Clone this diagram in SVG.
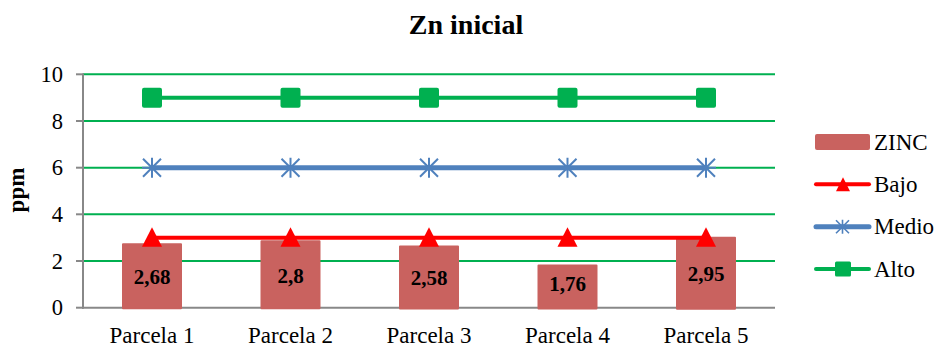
<svg xmlns="http://www.w3.org/2000/svg" xmlns:xlink="http://www.w3.org/1999/xlink" width="938" height="347" viewBox="0 0 938 347" font-family="'Liberation Serif', 'Times New Roman', serif">
<style>
text{fill:#000}
.tick{font-family:"Liberation Serif",serif;font-size:22.5px;text-anchor:end}
.cat{font-family:"Liberation Serif",serif;font-size:23px;text-anchor:middle}
.leg{font-family:"Liberation Serif",serif;font-size:23px}
.val{font-family:"Liberation Serif",serif;font-size:21px;font-weight:bold;text-anchor:middle}
.ttl{font-family:"Liberation Serif",serif;font-size:28px;font-weight:bold;text-anchor:middle}
.grid{stroke:#00B050;stroke-width:2}
.axis{stroke:#888;stroke-width:2}
.bar{fill:#C9625F;stroke:#C9625F;stroke-width:2;stroke-linejoin:round}
.alto{stroke:#00B050;stroke-width:4;fill:none}
.medio{stroke:#4F81BD;stroke-width:5;fill:none}
.bajo{stroke:#FF0000;stroke-width:4;fill:none}
</style>
<defs>
<rect id="sq" x="-10" y="-10" width="20" height="20" rx="2" fill="#00B050"/>
<path id="tri" d="M0,-10.5 L10,9 L-10,9 Z" fill="#FF0000"/>
<path id="star" d="M0,-10 V10 M-9,-9 L9,9 M-9,9 L9,-9 M-10,0 H10" stroke="#4F81BD" stroke-width="2" fill="none"/>
<rect id="sqs" x="-8" y="-7.5" width="16" height="15" rx="1.5" fill="#00B050"/>
<path id="tris" d="M0,-7 L7,7 L-7,7 Z" fill="#FF0000"/>
<path id="stars" d="M0,-7 V7 M-6.5,-6.5 L6.5,6.5 M-6.5,6.5 L6.5,-6.5" stroke="#4F81BD" stroke-width="1.6" fill="none"/>
</defs>
<rect width="938" height="347" fill="#fff"/>
<text class="ttl" x="466" y="34" font-family="Liberation Serif">Zn inicial</text>
<g id="grid">
<line class="grid" x1="83" y1="74.3" x2="775" y2="74.3"/>
<line class="grid" x1="83" y1="121" x2="775" y2="121"/>
<line class="grid" x1="83" y1="167.7" x2="775" y2="167.7"/>
<line class="grid" x1="83" y1="214.3" x2="775" y2="214.3"/>
<line class="grid" x1="83" y1="261" x2="775" y2="261"/>
</g>
<g id="axes" font-family="Liberation Serif">
<line class="axis" x1="83" y1="73.5" x2="83" y2="308.7"/>
<line class="axis" x1="82" y1="307.7" x2="775" y2="307.7"/>
<line class="axis" x1="76" y1="74.3" x2="83" y2="74.3"/>
<line class="axis" x1="76" y1="121" x2="83" y2="121"/>
<line class="axis" x1="76" y1="167.7" x2="83" y2="167.7"/>
<line class="axis" x1="76" y1="214.3" x2="83" y2="214.3"/>
<line class="axis" x1="76" y1="261" x2="83" y2="261"/>
<line class="axis" x1="76" y1="307.7" x2="83" y2="307.7"/>
<text class="tick" x="63" y="82">10</text>
<text class="tick" x="63" y="128.7">8</text>
<text class="tick" x="63" y="175.4">6</text>
<text class="tick" x="63" y="222">4</text>
<text class="tick" x="63" y="268.7">2</text>
<text class="tick" x="63" y="315.4">0</text>
<text x="24" y="190" transform="rotate(-90 24 190)" font-family="Liberation Serif" font-size="23" font-weight="bold" text-anchor="middle">ppm</text>
<text class="cat" x="152" y="343">Parcela 1</text>
<text class="cat" x="290.5" y="343">Parcela 2</text>
<text class="cat" x="429" y="343">Parcela 3</text>
<text class="cat" x="567.5" y="343">Parcela 4</text>
<text class="cat" x="706" y="343">Parcela 5</text>
</g>
<g id="zinc">
<rect class="bar" x="123" y="244.2" width="58" height="64"/>
<rect class="bar" x="261.5" y="241.3" width="58" height="67"/>
<rect class="bar" x="400" y="246.5" width="58" height="62"/>
<rect class="bar" x="538.5" y="265.6" width="58" height="43"/>
<rect class="bar" x="677" y="237.8" width="58" height="71"/>
</g>
<g id="connectors">
<line class="bajo" x1="152" y1="237.7" x2="706" y2="237.7"/>
<line class="medio" x1="152" y1="167.7" x2="706" y2="167.7"/>
<line class="alto" x1="152" y1="97.7" x2="706" y2="97.7"/>
</g>
<g id="bajo">
<use xlink:href="#tri" x="152" y="237.7"/>
<use xlink:href="#tri" x="290.5" y="237.7"/>
<use xlink:href="#tri" x="429" y="237.7"/>
<use xlink:href="#tri" x="567.5" y="237.7"/>
<use xlink:href="#tri" x="706" y="237.7"/>
</g>
<g id="medio">
<use xlink:href="#star" x="152" y="167.7"/>
<use xlink:href="#star" x="290.5" y="167.7"/>
<use xlink:href="#star" x="429" y="167.7"/>
<use xlink:href="#star" x="567.5" y="167.7"/>
<use xlink:href="#star" x="706" y="167.7"/>
</g>
<g id="alto">
<use xlink:href="#sq" x="152" y="97.7"/>
<use xlink:href="#sq" x="290.5" y="97.7"/>
<use xlink:href="#sq" x="429" y="97.7"/>
<use xlink:href="#sq" x="567.5" y="97.7"/>
<use xlink:href="#sq" x="706" y="97.7"/>
</g>
<g id="labels" font-family="Liberation Serif">
<text class="val" x="152" y="284">2,68</text>
<text class="val" x="290.5" y="283">2,8</text>
<text class="val" x="429" y="285">2,58</text>
<text class="val" x="567.5" y="291">1,76</text>
<text class="val" x="706" y="281">2,95</text>
</g>
<g id="legend" font-family="Liberation Serif">
<rect x="815" y="134" width="55" height="16" rx="2" fill="#C9625F"/>
<text class="leg" x="874" y="149.5">ZINC</text>
<line x1="816" y1="184.3" x2="869" y2="184.3" stroke="#FF0000" stroke-width="4" stroke-linecap="round"/>
<use xlink:href="#tris" x="843" y="184.3"/>
<text class="leg" x="874" y="191.5">Bajo</text>
<line x1="816" y1="226.7" x2="869" y2="226.7" stroke="#4F81BD" stroke-width="5" stroke-linecap="round"/>
<use xlink:href="#stars" x="842.5" y="226.7"/>
<text class="leg" x="874" y="234">Medio</text>
<line x1="816" y1="269" x2="869" y2="269" stroke="#00B050" stroke-width="4" stroke-linecap="round"/>
<use xlink:href="#sqs" x="843" y="269"/>
<text class="leg" x="874" y="276.5">Alto</text>
</g>
</svg>
